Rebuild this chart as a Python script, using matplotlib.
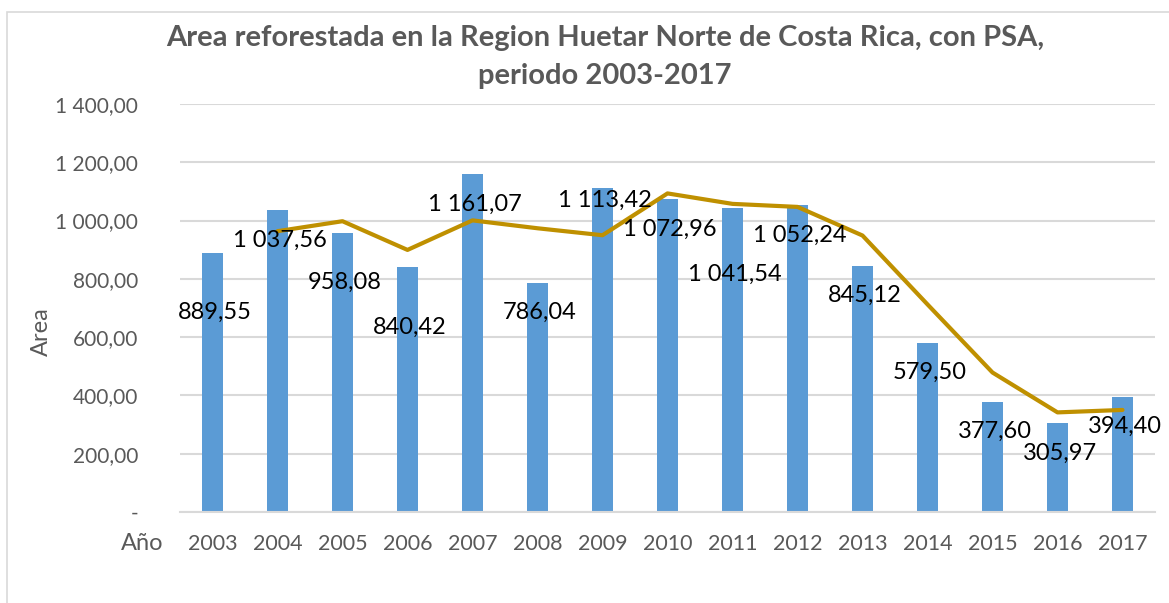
import matplotlib
matplotlib.use("Agg")
import matplotlib.pyplot as plt
from matplotlib.patches import Rectangle
from matplotlib.ticker import FuncFormatter

years = ["2003", "2004", "2005", "2006", "2007", "2008", "2009", "2010",
         "2011", "2012", "2013", "2014", "2015", "2016", "2017"]
area = [889.55, 1037.56, 958.08, 840.42, 1161.07, 786.04, 1113.42, 1072.96,
        1041.54, 1052.24, 845.12, 579.50, 377.60, 305.97, 394.40]
# 2-period moving average trendline (starts in 2004)
trend = [None, 963.6, 997.8, 899.3, 1000.7, 973.6, 949.7, 1093.2,
         1057.3, 1046.9, 948.7, 712.3, 478.6, 341.8, 350.2]
# vertical centre of each data label (data units)
label_y = [684, 933, 789, 635, 1057, 684, 1070, 971,
           817, 950, 745, 478, 276, 202, 293]

W, H = 1169, 603
BLUE = "#5B9BD5"
GOLD = "#BF9000"
GREY = "#595959"
GRID = "#D9D9D9"
FONT = "Lato"


def fx(px):
    return px / W


def fy(py):
    return 1 - py / H


def fmt(v, pos=None):
    if v == 0:
        return "-"
    s = f"{v:,.2f}"
    return s.replace(",", " ").replace(".", ",")


fig = plt.figure(figsize=(W / 100, H / 100), dpi=100)
fig.patches.append(Rectangle((fx(7), -0.05), 1.1, fy(12) + 0.05, transform=fig.transFigure,
                             fill=False, edgecolor=GRID, linewidth=1.2))

ax = fig.add_axes([fx(180), fy(512), fx(1155) - fx(180), fy(104) - fy(512)])
x = list(range(len(years)))
ax.bar(x, area, width=0.31, color=BLUE, zorder=2)
tx = [i for i, v in zip(x, trend) if v is not None]
ty = [v for v in trend if v is not None]
ax.plot(tx, ty, color=GOLD, linewidth=3, zorder=3, solid_capstyle="round")

for i, (v, ly) in enumerate(zip(area, label_y)):
    ax.text(i + 0.04, ly, fmt(v), ha="center", va="center", fontsize=17,
            family=FONT, color="black", zorder=4)

ax.set_xlim(-0.5, len(years) - 0.5)
ax.set_ylim(0, 1400)
ax.set_yticks(range(0, 1401, 200))
ax.yaxis.set_major_formatter(FuncFormatter(fmt))
ax.set_xticks(x)
ax.set_xticklabels(years)
ax.tick_params(axis="y", length=0, pad=30, labelsize=15, labelcolor=GREY)
ax.tick_params(axis="x", length=0, pad=16, labelsize=15.5, labelcolor=GREY)
for lab in ax.get_xticklabels() + ax.get_yticklabels():
    lab.set_family(FONT)
ax.grid(axis="y", color=GRID, linewidth=1.5, zorder=0)
for s in ["top", "right", "left"]:
    ax.spines[s].set_visible(False)
ax.spines["bottom"].set_color(GRID)
ax.spines["bottom"].set_linewidth(1.5)
ax.set_axisbelow(True)

fig.text(fx(605), fy(38), "Area reforestada en la Region Huetar Norte de Costa Rica, con PSA,",
         ha="center", va="center", fontsize=21, fontweight="bold", color=GREY, family=FONT)
fig.text(fx(605), fy(76), "periodo 2003-2017", ha="center", va="center",
         fontsize=21, fontweight="bold", color=GREY, family=FONT)
fig.text(fx(41), fy(332), "Area", rotation=90, ha="center", va="center",
         fontsize=17, color=GREY, family=FONT)
fig.text(fx(142), fy(544), "Año", ha="center", va="center",
         fontsize=17, color=GREY, family=FONT)

fig.savefig("out.png", dpi=100, facecolor="white")
